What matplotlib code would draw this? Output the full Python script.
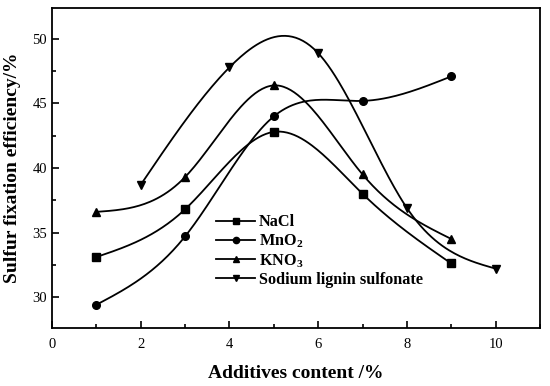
import numpy as np
import matplotlib
matplotlib.use("Agg")
import matplotlib.pyplot as plt
from matplotlib.ticker import MultipleLocator

plt.rcParams['font.family'] = ['Liberation Serif', 'DejaVu Serif']
plt.rcParams['mathtext.fontset'] = 'custom'
plt.rcParams['mathtext.rm'] = 'Liberation Serif:bold'
plt.rcParams['mathtext.bf'] = 'Liberation Serif:bold'

# data
x_odd = [1, 3, 5, 7, 9]
x_even = [2, 4, 6, 8, 10]
nacl = [33.1, 36.8, 42.8, 38.0, 32.6]
mno2 = [29.4, 34.7, 44.0, 45.2, 47.1]
kno3 = [36.6, 39.3, 46.4, 39.5, 34.5]
lignin = [38.7, 47.8, 48.9, 36.9, 32.2]

labels = ['NaCl', r'MnO$_{\mathbf{2}}$', r'KNO$_{\mathbf{3}}$', 'Sodium lignin sulfonate']
markers = ['s', 'o', '^', 'v']


# natural cubic spline, like Origin's spline connection
def spline(x, y, n=200):
    x = np.asarray(x, float)
    y = np.asarray(y, float)
    k = len(x)
    h = np.diff(x)
    A = np.zeros((k, k))
    b = np.zeros(k)
    A[0, 0] = 1
    A[-1, -1] = 1
    for i in range(1, k - 1):
        A[i, i - 1] = h[i - 1]
        A[i, i] = 2 * (h[i - 1] + h[i])
        A[i, i + 1] = h[i]
        b[i] = 6 * ((y[i + 1] - y[i]) / h[i] - (y[i] - y[i - 1]) / h[i - 1])
    m = np.linalg.solve(A, b)
    xs = np.linspace(x[0], x[-1], n)
    ys = np.empty_like(xs)
    for j, t in enumerate(xs):
        i = min(np.searchsorted(x, t, side='right') - 1, k - 2)
        a = x[i + 1] - t
        c = t - x[i]
        ys[j] = (m[i] * a ** 3 + m[i + 1] * c ** 3) / (6 * h[i]) \
            + (y[i] / h[i] - m[i] * h[i] / 6) * a \
            + (y[i + 1] / h[i] - m[i + 1] * h[i] / 6) * c
    return xs, ys


fig = plt.figure(figsize=(5.5, 3.86), dpi=100)
ax = fig.add_axes([52 / 550, 1 - 328 / 386, 488 / 550, 320 / 386])

series = [(x_odd, nacl), (x_odd, mno2), (x_odd, kno3), (x_even, lignin)]
for (xv, yv), lab, mk in zip(series, labels, markers):
    xs, ys = spline(xv, yv)
    ax.plot(xs, ys, color='black', lw=1.3)
    ax.plot(xv, yv, ls='none', marker=mk, color='black', ms=5.5)
    ax.plot([], [], color='black', lw=1.3, marker=mk, ms=4.5, label=lab)

ax.set_xlim(0, 11)
ax.set_ylim(27.6, 52.4)
ax.xaxis.set_major_locator(MultipleLocator(2))
ax.xaxis.set_minor_locator(MultipleLocator(1))
ax.yaxis.set_major_locator(MultipleLocator(5))
ax.yaxis.set_minor_locator(MultipleLocator(2.5))
ax.tick_params(which='both', direction='in', top=False, right=False, labelsize=10.5, width=1.2)
ax.tick_params(which='major', length=5)
ax.tick_params(which='minor', length=3)
ax.tick_params(axis='x', pad=7)
for s in ax.spines.values():
    s.set_linewidth(1.3)

ax.set_xlabel('Additives content /%', fontsize=14, fontweight='bold', labelpad=10)
ax.set_ylabel('Sulfur fixation efficiency/%', fontsize=14, fontweight='bold', labelpad=8)

leg = ax.legend(loc='upper left', bbox_to_anchor=(0.323, 0.375), frameon=False,
                prop={'weight': 'bold', 'size': 11.7}, handlelength=2.4,
                handletextpad=0.25, labelspacing=0.12, borderaxespad=0)

fig.savefig('out.png', dpi=100)
